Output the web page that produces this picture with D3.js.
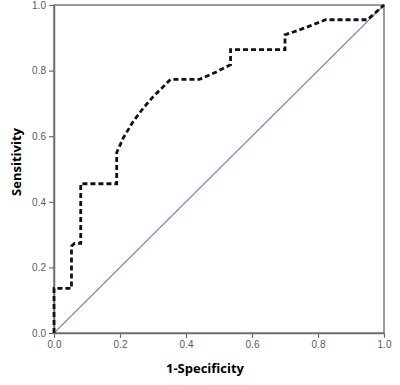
<!DOCTYPE html>
<html>
<head>
<meta charset="utf-8">
<script src="https://cdn.jsdelivr.net/npm/d3@7"></script>
<style>
  body { margin: 0; background: #fff; }
</style>
</head>
<body>
<div id="roc"></div>
<script>
// ROC curve points
let fpr = [0, 0, 0.053, 0.053, 0.062, 0.081, 0.081, 0.19, 0.19, 0.21, 0.24, 0.27, 0.30, 0.353, 0.44, 0.49, 0.535, 0.535, 0.70, 0.70, 0.76, 0.823, 0.95, 1.0];
let tpr = [0, 0.136, 0.136, 0.265, 0.273, 0.273, 0.455, 0.455, 0.55, 0.595, 0.645, 0.685, 0.72, 0.773, 0.773, 0.795, 0.818, 0.864, 0.864, 0.909, 0.93, 0.955, 0.955, 1.0];
let refX = [0, 1];
let refY = [0, 1];
let ticks = [0, 0.2, 0.4, 0.6, 0.8, 1.0];

let width = 400;
let height = 385;
let margin = ({ top: 5, right: 16, bottom: 52, left: 54 });

let x = d3.scaleLinear()
    .domain([0, 1])
    .range([margin.left, width - margin.right]);

let y = d3.scaleLinear()
    .domain([0, 1])
    .range([height - margin.bottom, margin.top]);

let svg = d3.select('#roc')
    .append('svg')
    .attr('width', width)
    .attr('height', height);

// frame (top and right)
svg.append('rect')
    .attr('x', x(0))
    .attr('y', y(1))
    .attr('width', x(1) - x(0))
    .attr('height', y(0) - y(1))
    .attr('fill', 'none')
    .attr('stroke', '#7a7a7a')
    .attr('stroke-width', 1.5);

let xAxis = g => g
    .attr('transform', `translate(0,${y(0)})`)
    .call(d3.axisBottom(x).tickValues(ticks).tickFormat(d3.format('.1f')).tickSize(5).tickSizeOuter(0));

let yAxis = g => g
    .attr('transform', `translate(${x(0)},0)`)
    .call(d3.axisLeft(y).tickValues(ticks).tickFormat(d3.format('.1f')).tickSize(5).tickSizeOuter(0));

[xAxis, yAxis].forEach(ax => {
    let g = svg.append('g').call(ax);
    g.select('.domain').attr('stroke', '#6e6e6e').attr('stroke-width', 1.5);
    g.selectAll('.tick line').attr('stroke', '#6e6e6e').attr('stroke-width', 1.2);
    g.selectAll('.tick text')
        .attr('fill', '#5a5a5a')
        .style('font-family', 'Arial, "Liberation Sans", sans-serif')
        .style('font-size', '10px');
});

// reference diagonal
let line = d3.line()
    .x(d => x(d[0]))
    .y(d => y(d[1]));

svg.append('path')
    .datum(d3.zip(refX, refY))
    .attr('d', line)
    .attr('fill', 'none')
    .attr('stroke', '#8088c8')
    .attr('stroke-width', 1.2);

// ROC curve
svg.append('path')
    .datum(d3.zip(fpr, tpr))
    .attr('d', line)
    .attr('fill', 'none')
    .attr('stroke', '#111')
    .attr('stroke-width', 2.8)
    .attr('stroke-dasharray', '5,3');

// axis titles
svg.append('text')
    .attr('x', 205)
    .attr('y', 373)
    .attr('text-anchor', 'middle')
    .attr('fill', '#000')
    .style('font-family', '"Open Sans", sans-serif')
    .style('font-weight', 'bold')
    .style('font-size', '13px')
    .text('1-Specificity');

svg.append('text')
    .attr('transform', 'translate(21, 162) rotate(-90)')
    .attr('text-anchor', 'middle')
    .attr('fill', '#000')
    .style('font-family', '"Open Sans", sans-serif')
    .style('font-weight', 'bold')
    .style('font-size', '13px')
    .text('Sensitivity');
</script>
</body>
</html>
